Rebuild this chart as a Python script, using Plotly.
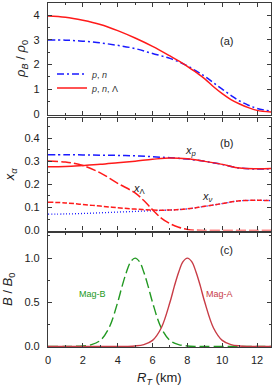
import plotly.graph_objects as go

# ---------------- data ----------------
R_a = [0, 1, 2, 3, 4, 5, 6, 7, 7.85, 8.5, 9, 9.5, 10, 10.5, 11, 11.5, 12, 12.8]
rho_pn = [3.0, 2.99, 2.95, 2.88, 2.78, 2.65, 2.45, 2.25, 2.0, 1.74, 1.52, 1.26, 1.0, 0.75, 0.52, 0.35, 0.22, 0.11]
rho_pnL = [3.97, 3.92, 3.80, 3.63, 3.38, 3.08, 2.74, 2.35, 2.0, 1.68, 1.42, 1.10, 0.82, 0.58, 0.40, 0.25, 0.14, 0.07]

R_b = [0, 1, 2, 3, 4, 5, 6, 7, 8, 9, 10, 11, 12, 12.8]
xp_pn = [0.329, 0.329, 0.328, 0.327, 0.326, 0.324, 0.320, 0.316, 0.310, 0.300, 0.287, 0.271, 0.267, 0.268]
xp_pnL = [0.277, 0.278, 0.282, 0.287, 0.294, 0.301, 0.309, 0.315, 0.311, 0.300, 0.287, 0.271, 0.268, 0.269]
xn_pn = [0.071, 0.072, 0.074, 0.077, 0.080, 0.083, 0.086, 0.089, 0.094, 0.105, 0.117, 0.129, 0.131, 0.130]
xn_pnL = [0.123, 0.120, 0.113, 0.106, 0.099, 0.093, 0.089, 0.089, 0.094, 0.105, 0.117, 0.129, 0.131, 0.130]
R_L = [0, 1, 2, 3, 4, 5, 5.5, 6, 6.5, 7, 7.5, 8, 8.5, 9, 10, 11, 12, 12.8]
xL_pnL = [0.302, 0.297, 0.282, 0.250, 0.205, 0.163, 0.130, 0.090, 0.054, 0.030, 0.014, 0.005, 0.001, 0.0, 0.0, 0.0, 0.0, 0.0]

R_magB = [0, 1, 1.5, 2, 2.5, 3, 3.5, 4, 4.25, 4.5, 4.75, 5, 5.25, 5.5, 5.75, 6, 6.5, 7, 7.5, 8, 8.5, 9, 10, 11, 12, 12.8]
B_magB = [0, 0.0005, 0.002, 0.007, 0.022, 0.07, 0.21, 0.50, 0.68, 0.84, 0.96, 1.0, 0.96, 0.84, 0.68, 0.50,
          0.21, 0.07, 0.022, 0.007, 0.002, 0.0005, 0, 0, 0, 0]
R_magA = [0, 2, 4, 4.5, 5, 5.5, 6, 6.5, 7, 7.25, 7.5, 7.75, 8, 8.25, 8.5, 8.75, 9, 9.5, 10, 10.5, 11, 11.5, 12, 12.8]
B_magA = [0, 0, 0.0005, 0.002, 0.007, 0.022, 0.07, 0.21, 0.50, 0.68, 0.84, 0.96, 1.0, 0.96, 0.84, 0.68, 0.50,
          0.21, 0.07, 0.022, 0.007, 0.002, 0.0005, 0]

# ---------------- style ----------------
RED = "#ff1a1a"
BLUE = "#1a1aff"
GREEN = "#229922"
MAGA = "#c83c46"
FRAME = "#3a3a3a"
FONT = "Liberation Sans, Arial, sans-serif"

W, H = 274, 388
ML, MR, MT, MB = 48, 3, 3, 41
PW, PH = W - ML - MR, H - MT - MB


def px_x(px):
    return (px - ML) / PW


def px_y(py):
    return (H - MB - py) / PH


fig = go.Figure()

# panel (a)
fig.add_trace(go.Scatter(x=R_a, y=rho_pn, mode="lines", line=dict(color=BLUE, width=1.5, dash="7px,3px,2px,3px"),
                         line_shape="spline", name="<i>p</i>, <i>n</i>", legend="legend", xaxis="x", yaxis="y"))
fig.add_trace(go.Scatter(x=R_a, y=rho_pnL, mode="lines", line=dict(color=RED, width=1.5),
                         line_shape="spline", name="<i>p</i>, <i>n</i>, Λ", legend="legend2", xaxis="x", yaxis="y"))

# panel (b)
fig.add_trace(go.Scatter(x=R_b, y=xp_pn, mode="lines", line=dict(color=BLUE, width=1.5, dash="7px,3px,2px,3px"),
                         line_shape="spline", showlegend=False, xaxis="x2", yaxis="y2"))
fig.add_trace(go.Scatter(x=R_b, y=xn_pn, mode="lines", line=dict(color=BLUE, width=1.3, dash="1px,2px"),
                         line_shape="spline", showlegend=False, xaxis="x2", yaxis="y2"))
fig.add_trace(go.Scatter(x=R_b, y=xp_pnL, mode="lines", line=dict(color=RED, width=1.5),
                         line_shape="spline", showlegend=False, xaxis="x2", yaxis="y2"))
fig.add_trace(go.Scatter(x=R_b, y=xn_pnL, mode="lines", line=dict(color=RED, width=1.5, dash="5px,2px"),
                         line_shape="spline", showlegend=False, xaxis="x2", yaxis="y2"))
fig.add_trace(go.Scatter(x=R_L, y=xL_pnL, mode="lines", line=dict(color=RED, width=1.5, dash="10px,3px"),
                         line_shape="spline", showlegend=False, xaxis="x2", yaxis="y2"))

# panel (c)
fig.add_trace(go.Scatter(x=R_magB, y=B_magB, mode="lines", line=dict(color=GREEN, width=1.4, dash="10px,4px"),
                         line_shape="spline", showlegend=False, xaxis="x3", yaxis="y3"))
fig.add_trace(go.Scatter(x=R_magA, y=B_magA, mode="lines", line=dict(color=MAGA, width=1.4),
                         line_shape="spline", showlegend=False, xaxis="x3", yaxis="y3"))

xcommon = dict(range=[0, 12.8], dtick=2, tick0=0, ticks="inside", ticklen=4, tickwidth=1, tickcolor=FRAME,
               showline=True, linecolor=FRAME, linewidth=1.2, mirror="ticks", showgrid=False, zeroline=False,
               automargin=False, ticklabelstandoff=3,
               minor=dict(ticks="inside", ticklen=2, dtick=1, tickcolor=FRAME, showgrid=False))
ycommon = dict(ticks="inside", ticklen=4, tickwidth=1, tickcolor=FRAME, showline=True, linecolor=FRAME,
               linewidth=1.2, mirror="ticks", showgrid=False, zeroline=False, ticklabelstandoff=5,
               automargin=False)

leg = dict(xanchor="left", yanchor="middle", xref="paper", yref="paper", bgcolor="rgba(0,0,0,0)",
           font=dict(size=9, color="#333"), itemwidth=30)

fig.update_layout(
    template="none",
    width=W, height=H,
    margin=dict(l=ML, r=MR, t=MT, b=MB, autoexpand=False),
    paper_bgcolor="white", plot_bgcolor="white",
    font=dict(family=FONT, size=11, color="#222"),
    showlegend=True,
    legend=dict(**leg, x=px_x(52), y=px_y(74)),
    legend2=dict(**leg, x=px_x(52), y=px_y(88)),
    xaxis=dict(**xcommon, domain=[0, 1], anchor="y", showticklabels=False, matches="x3"),
    xaxis2=dict(**xcommon, domain=[0, 1], anchor="y2", showticklabels=False, matches="x3"),
    xaxis3=dict(**xcommon, domain=[0, 1], anchor="y3", showticklabels=True),
    yaxis=dict(**ycommon, domain=[0.675, 1.0], range=[-0.04, 4.5], dtick=1,
               minor=dict(ticks="inside", ticklen=2, dtick=0.5, tickcolor=FRAME)),
    yaxis2=dict(**ycommon, domain=[0.3385, 0.667], range=[0, 0.49], dtick=0.1, tickformat=".1f",
                minor=dict(ticks="inside", ticklen=2, dtick=0.05, tickcolor=FRAME)),
    yaxis3=dict(**ycommon, domain=[0, 0.3305], range=[-0.005, 1.28], dtick=0.5, tickformat=".1f",
                minor=dict(ticks="inside", ticklen=2, dtick=0.25, tickcolor=FRAME)),
)

# axis titles
fig.add_annotation(text="<i>ρ<sub>B</sub></i> / <i>ρ</i><sub>0</sub>", x=px_x(22), y=0.8375,
                   xref="paper", yref="paper", xanchor="center", yanchor="middle", textangle=-90,
                   showarrow=False, font=dict(size=13))
fig.add_annotation(text="<i>x<sub>α</sub></i>", x=px_x(10), y=0.5025,
                   xref="paper", yref="paper", xanchor="center", yanchor="middle", textangle=-90,
                   showarrow=False, font=dict(size=13))
fig.add_annotation(text="<i>B</i> / <i>B</i><sub>0</sub>", x=px_x(9), y=0.166,
                   xref="paper", yref="paper", xanchor="center", yanchor="middle", textangle=-90,
                   showarrow=False, font=dict(size=13))
fig.add_annotation(text="<i>R<sub>T</sub></i> (km)", x=0.5, y=px_y(378), xref="paper", yref="paper",
                   xanchor="center", yanchor="middle", showarrow=False, font=dict(size=13))

# panel labels
fig.add_annotation(text="(a)", x=px_x(235), y=px_y(33), xref="paper", yref="paper", showarrow=False,
                   font=dict(size=11))
fig.add_annotation(text="(b)", x=px_x(235), y=px_y(143), xref="paper", yref="paper", showarrow=False,
                   font=dict(size=11))
fig.add_annotation(text="(c)", x=px_x(235), y=px_y(258), xref="paper", yref="paper", showarrow=False,
                   font=dict(size=11))

# curve labels
fig.add_annotation(text="<i>x<sub>p</sub></i>", x=8.2, y=0.345, xref="x2", yref="y2", showarrow=False,
                   font=dict(size=11))
fig.add_annotation(text="<i>x</i><sub>Λ</sub>", x=5.28, y=0.182, xref="x2", yref="y2", showarrow=False,
                   font=dict(size=11))
fig.add_annotation(text="<i>x<sub>ν</sub></i>", x=9.18, y=0.145, xref="x2", yref="y2", showarrow=False,
                   font=dict(size=11))
fig.add_annotation(text="Mag-B", x=2.55, y=0.59, xref="x3", yref="y3", showarrow=False,
                   font=dict(size=9, color=GREEN))
fig.add_annotation(text="Mag-A", x=9.87, y=0.59, xref="x3", yref="y3", showarrow=False,
                   font=dict(size=9, color=MAGA))

fig.write_html("out.html", config={"displayModeBar": False},
               post_script="document.body.style.margin='0';document.body.style.overflow='hidden';")
